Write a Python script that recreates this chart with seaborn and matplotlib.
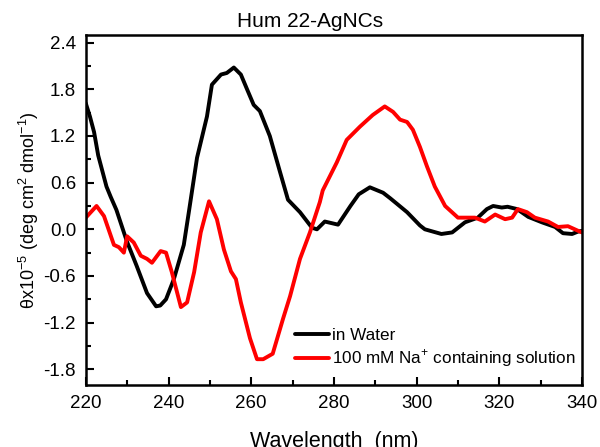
import seaborn as sns
import matplotlib.pyplot as plt
from matplotlib.ticker import MultipleLocator
import pandas as pd

# CD spectra, values
water_nm = [220, 221, 222, 223, 224, 225, 226, 227.4, 229.9, 232.3, 234.8, 237, 238,
            239.4, 241.3, 243.7, 245, 246.9, 249.3, 250.5, 252.7, 254.1, 255.8, 257.5,
            259, 260.6, 262.1, 264.5, 266.9, 268.9, 271.8, 274.7, 275.9, 277.8, 281,
            284, 286, 288.7, 291.9, 293.6, 295.2, 297.7, 300.8, 302, 306, 308.6, 311.7,
            314.8, 317, 318.5, 320.6, 322, 324.3, 327, 330.3, 333.5, 335.4, 337.6, 339, 340]
water_val = [1.62, 1.45, 1.25, 0.95, 0.75, 0.55, 0.42, 0.25, -0.15, -0.47, -0.82, -0.99, -0.98,
             -0.9, -0.64, -0.2, 0.25, 0.92, 1.45, 1.86, 1.99, 2.01, 2.08, 1.99,
             1.8, 1.6, 1.52, 1.2, 0.75, 0.38, 0.22, 0.02, 0.0, 0.1, 0.06,
             0.3, 0.45, 0.54, 0.47, 0.4, 0.33, 0.22, 0.05, 0.0, -0.06, -0.04, 0.09,
             0.15, 0.26, 0.3, 0.28, 0.29, 0.26, 0.16, 0.09, 0.03, -0.05, -0.06, -0.03, -0.02]

na_nm = [220, 222.6, 224.4, 226.8, 228, 229.2, 230, 231.6, 233.3, 234.8, 236, 238.1, 239.4,
         240.8, 243, 244.5, 246.2, 247.8, 249.8, 251.7, 253.4, 255.1, 256.3, 257.5, 259.7,
         261.4, 262.9, 265.2, 267.7, 269.4, 271.8, 274.2, 276.6, 277.3, 280.7, 283.1, 286.3,
         289.4, 292.3, 294.3, 296, 297.7, 299.1, 300.8, 302.5, 304.4, 306.9, 310, 314.1,
         316.5, 319, 321.4, 323.1, 324.5, 326.7, 328.6, 331.8, 334.2, 336.6, 339.5, 340]
na_val = [0.15, 0.3, 0.17, -0.2, -0.23, -0.3, -0.09, -0.17, -0.34, -0.38, -0.43, -0.28, -0.3,
          -0.55, -1.0, -0.94, -0.55, -0.04, 0.36, 0.13, -0.26, -0.54, -0.64, -0.94, -1.4,
          -1.67, -1.67, -1.6, -1.15, -0.86, -0.38, -0.04, 0.35, 0.5, 0.86, 1.15, 1.32,
          1.47, 1.58, 1.51, 1.41, 1.38, 1.28, 1.06, 0.81, 0.55, 0.3, 0.15, 0.15,
          0.1, 0.19, 0.13, 0.15, 0.26, 0.22, 0.15, 0.1, 0.03, 0.04, -0.03, -0.04]

labels = ["in Water", "100 mM Na$^{+}$ containing solution"]
colors = ["black", "red"]
yticks = [-1.8, -1.2, -0.6, 0.0, 0.6, 1.2, 1.8, 2.4]

sns.set_style("ticks")
plt.rcParams['font.family'] = ['Liberation Sans', 'DejaVu Sans']
plt.rcParams.update({'text.color': 'black', 'axes.labelcolor': 'black',
                     'xtick.color': 'black', 'ytick.color': 'black',
                     'axes.edgecolor': 'black', 'mathtext.fontset': 'custom',
                     'mathtext.rm': 'Liberation Sans'})

fig = plt.figure(figsize=(6.0, 4.47), dpi=100)
ax = fig.add_axes([0.143, 0.139, 0.827, 0.783])

df_w = pd.DataFrame({"nm": water_nm, "val": water_val})
df_n = pd.DataFrame({"nm": na_nm, "val": na_val})
sns.lineplot(data=df_w, x="nm", y="val", color=colors[0], lw=2.8, label=labels[0], ax=ax)
sns.lineplot(data=df_n, x="nm", y="val", color=colors[1], lw=2.8, label=labels[1], ax=ax)

ax.set_xlim(220, 340)
ax.set_ylim(-2.0, 2.5)
ax.xaxis.set_major_locator(MultipleLocator(20))
ax.xaxis.set_minor_locator(MultipleLocator(10))
ax.yaxis.set_minor_locator(MultipleLocator(0.3))
ax.set_yticks(yticks)
ax.set_yticklabels([f"{v:.1f}" for v in yticks])
ax.tick_params(which='major', direction='in', length=6, width=1.5, labelsize=13.5, pad=7,
               top=False, right=False)
ax.tick_params(which='minor', direction='in', length=3.5, width=1.5, top=False, right=False)
for s in ax.spines.values():
    s.set_linewidth(1.8)
    s.set_visible(True)

ax.set_xlabel("Wavelength  (nm)", fontsize=15.5, labelpad=14)
ax.set_ylabel("\u03b8x10$^{-5}$ (deg cm$^{2}$ dmol$^{-1}$)", fontsize=13, labelpad=2)
fig.text(0.517, 0.951, "Hum 22-AgNCs", fontsize=15, ha='center', va='center')

leg = ax.legend(loc='lower left', bbox_to_anchor=(0.39, 0.0), frameon=False, fontsize=12.3,
                handlelength=2.0, handletextpad=0.2, labelspacing=0.3)

fig.savefig("out.png", dpi=100)
